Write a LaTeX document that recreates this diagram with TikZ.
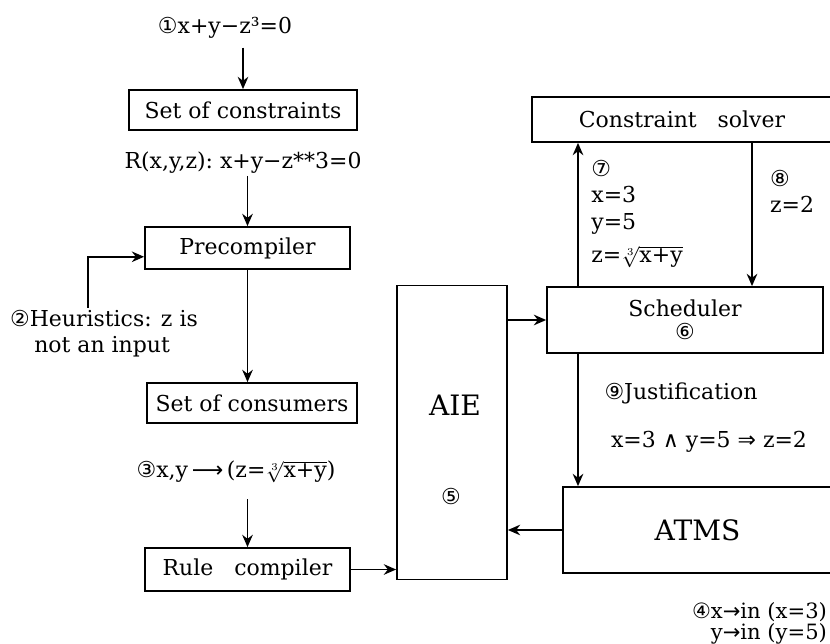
\documentclass[tikz,border=0pt]{standalone}
\usepackage{fontspec}
\setmainfont{DejaVu Serif}
\newfontfamily\symf{DejaVu Sans}
\usetikzlibrary{arrows.meta,positioning}
\newcommand{\cn}[1]{{\symf #1}}

\begin{document}
\begin{tikzpicture}[
        x=0.02cm, y=-0.02cm,
        font=\fontsize{12.5}{15}\selectfont,
        box/.style={
            draw,
            line width=1pt,
            inner sep=0pt
        },
        lbl/.style={
            inner sep=1pt
        },
        arr/.style={
            -{Stealth[length=7pt,width=6pt]},
            line width=1.1pt
        }
    ]
        \clip (0,0) rectangle (830,644);
        % Left column
        \node[lbl] (eq1) at (225,28) {\cn{①}x+y−z³=0};
        \node[box, minimum width=4.56cm, minimum height=0.8cm] (cons) at (243,110) {Set of constraints};
        \node[lbl] (rel) at (243,163) {R(x,y,z):\ x+y−z**3=0};
        \node[box, minimum width=4.1cm, minimum height=0.84cm] (precomp) at (247.5,248) {Precompiler};
        \node[lbl, align=left, anchor=north west] (heur) at (8,308) {\cn{②}Heuristics: z is\\\hspace*{1.1em}not an input};
        \node[box, minimum width=4.2cm, minimum height=0.8cm] (consum) at (252,403) {Set of consumers};
        \node[lbl] (eq3) at (236,472) {\cn{③}x,y\,\cn{⟶}\,(z=$\sqrt[3]{\mbox{x+y}}$)};
        \node[box, minimum width=4.1cm, minimum height=0.86cm] (rulec) at (247.5,569.5) {Rule~~~compiler};
        \coordinate (hx) at (88,0);

        % AIE
        \node[box, minimum width=2.2cm, minimum height=5.88cm] (aie) at (452,432.5) {};
        \node[lbl, font=\fontsize{16}{19}\selectfont] (aielbl) at (455,405) {AIE};
        \node[lbl] (c5) at (451,496) {\cn{⑤}};

        % Right column
        \node[box, minimum width=6cm, minimum height=0.9cm] (solver) at (682,119.5) {Constraint~~~solver};
        \node[box, minimum width=5.52cm, minimum height=1.32cm, align=center] (sched) at (685,320) {Scheduler\\[-2pt]\cn{⑥}};
        \node[box, minimum width=5.38cm, minimum height=1.72cm, font=\fontsize{16}{19}\selectfont] (atms) at (697.5,530) {ATMS};
        \coordinate (c7) at (578,0);
        \coordinate (c8) at (752,0);
        \node[lbl, align=left, anchor=north west, inner sep=0pt] (lab7) at (591,160) {\cn{⑦}\\x=3\\y=5};
        \node[lbl, anchor=west, inner sep=0pt] (lab7z) at (591,257) {z=$\sqrt[3]{\mbox{x+y}}$};
        \node[lbl, align=left, anchor=north west] (lab8) at (768,168) {\cn{⑧}\\z=2};
        \node[lbl] (just) at (681,393) {\cn{⑨}Justification};
        \node[lbl] (impl) at (709,442) {x=3 \cn{∧} y=5 \cn{⇒} z=2};
        \node[lbl, align=right, anchor=north east, font=\fontsize{12}{10}\selectfont] (lab4) at (829,600) {\cn{④}x\cn{→}in (x=3)\\y\cn{→}in (y=5)};

        % Connectors
        \draw[arr, shorten <=4pt] (eq1.south -| cons.north) -- (cons.north);
        \draw[arr] (rel.south -| precomp.north) -- (precomp.north);
        \draw[arr] (heur.north -| hx) |- ([yshift=-5pt]precomp.west);
        \draw[arr] (precomp.south) -- (precomp.south |- consum.north);
        \draw[arr, shorten <=8pt] (eq3.south -| rulec.north) -- (rulec.north);
        \draw[arr] (rulec.east) -- (rulec.east -| aie.west);
        \draw[arr] (aie.east |- sched.west) -- (sched.west);
        \draw[arr] (sched.north -| c7) -- (solver.south -| c7);
        \draw[arr] (solver.south -| c8) -- (sched.north -| c8);
        \draw[arr] (sched.south -| c7) -- (atms.north -| c7);
        \draw[arr] (atms.west) -- (atms.west -| aie.east);
\end{tikzpicture}
\end{document}
